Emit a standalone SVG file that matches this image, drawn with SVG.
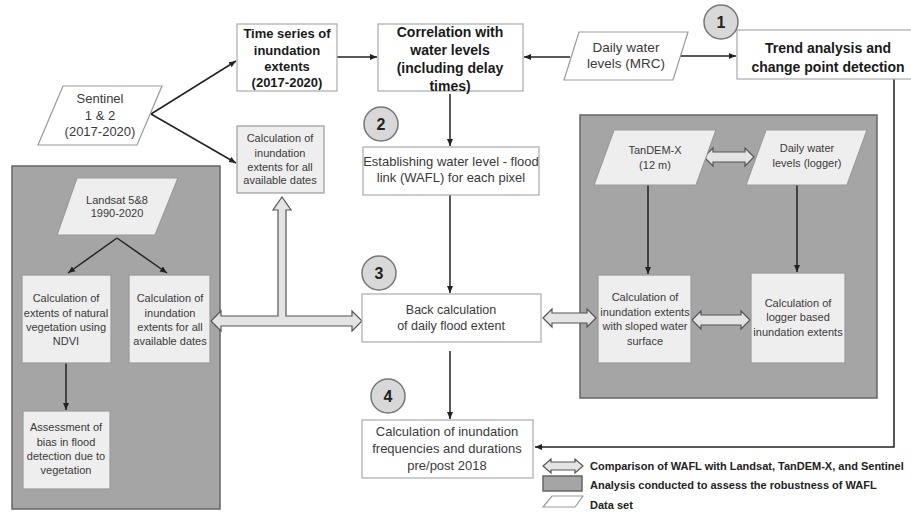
<svg xmlns="http://www.w3.org/2000/svg" width="911" height="521" viewBox="0 0 911 521">
<defs>
<marker id="ah" markerWidth="8" markerHeight="8" refX="7" refY="4" orient="auto" markerUnits="userSpaceOnUse">
<path d="M0,1 L7,4 L0,7 Z" fill="#222"/>
</marker>
<style>
.panel{fill:#a5a5a5;stroke:#666;stroke-width:1.5}
.wbox{fill:#fff;stroke:#aaa;stroke-width:1.2}
.gbox{fill:#eeeeee;stroke:#9a9a9a;stroke-width:1.2}
.para{fill:#fff;stroke:#999;stroke-width:1.2}
.gpara{fill:#eeeeee;stroke:#9a9a9a;stroke-width:1.2}
.hol{fill:#e4e4e4;stroke:#555;stroke-width:1.2}
.ln{fill:none;stroke:#222;stroke-width:1.5}
.circ{fill:#d8d8d8;stroke:#777;stroke-width:1.5}
text{font-family:"Liberation Sans",Arial,sans-serif;text-anchor:middle;fill:#3a3a3a}
.b{font-weight:bold;fill:#1a1a1a}
.num{font-weight:bold;font-size:16px;fill:#222}
.s11{font-size:11px}
.s13{font-size:13px}
.leg{font-size:11px;font-weight:bold;text-anchor:start;fill:#222}
</style>
</defs>

<!-- panels -->
<rect id="panel-landsat" class="panel" x="12" y="166" width="208" height="343"/>
<rect id="panel-tandem" class="panel" x="580" y="115" width="297" height="283"/>

<!-- connectors -->
<g id="connectors">
<line class="ln" x1="151" y1="114" x2="236" y2="61" marker-end="url(#ah)"/>
<line class="ln" x1="151" y1="114" x2="236" y2="163" marker-end="url(#ah)"/>
<line class="ln" x1="337" y1="57" x2="377" y2="57" marker-end="url(#ah)"/>
<line class="ln" x1="570" y1="57" x2="524" y2="57" marker-end="url(#ah)"/>
<line class="ln" x1="679" y1="56" x2="736" y2="56" marker-end="url(#ah)"/>
<line class="ln" x1="450" y1="94" x2="450" y2="146" marker-end="url(#ah)"/>
<line class="ln" x1="450" y1="195" x2="450" y2="293" marker-end="url(#ah)"/>
<line class="ln" x1="450" y1="351" x2="450" y2="419" marker-end="url(#ah)"/>
<polyline class="ln" points="894,79 894,447 535,447" marker-end="url(#ah)"/>
<line class="ln" x1="117" y1="238" x2="68" y2="273" marker-end="url(#ah)"/>
<line class="ln" x1="117" y1="238" x2="167" y2="273" marker-end="url(#ah)"/>
<line class="ln" x1="66" y1="363" x2="66" y2="410" marker-end="url(#ah)"/>
<line class="ln" x1="648" y1="185" x2="648" y2="274" marker-end="url(#ah)"/>
<line class="ln" x1="797" y1="185" x2="797" y2="272" marker-end="url(#ah)"/>
<!-- hollow comparison arrows -->
<path class="hol" d="M211,321 L221,311 L221,316 L278,316 L278,210 L273,210 L282,197 L291,210 L286,210 L286,316 L352,316 L352,311 L362,321 L352,331 L352,326 L221,326 L221,331 Z"/>
<path class="hol" d="M543,318 L552,309 L552,313 L587,313 L587,309 L596,318 L587,327 L587,323 L552,323 L552,327 Z"/>
<path class="hol" d="M692,320 L701,311 L701,315 L741,315 L741,311 L750,320 L741,329 L741,325 L701,325 L701,329 Z"/>
<path class="hol" d="M704,157 L713,148 L713,152 L745,152 L745,148 L754,157 L745,166 L745,162 L713,162 L713,166 Z"/>
</g>

<g id="sentinel">
<polygon class="para" points="63,86 162,86 137,145 38,145"/>
<text class="s13" x="100" y="103">Sentinel</text>
<text class="s13" x="100" y="120">1 &amp; 2</text>
<text class="s13" x="100" y="136">(2017-2020)</text>
</g>

<g id="time-series">
<rect class="wbox" x="237" y="24" width="100" height="67"/>
<text class="b s13" x="287" y="38">Time series of</text>
<text class="b s13" x="287" y="55">inundation</text>
<text class="b s13" x="287" y="71">extents</text>
<text class="b s13" x="287" y="87">(2017-2020)</text>
</g>

<g id="calc-sentinel">
<rect class="gbox" x="237" y="126" width="87" height="67"/>
<text class="s11" x="280" y="142">Calculation of</text>
<text class="s11" x="280" y="157">inundation</text>
<text class="s11" x="280" y="171">extents for all</text>
<text class="s11" x="280" y="184">available dates</text>
</g>

<g id="correlation">
<rect class="wbox" x="378" y="24" width="145" height="67"/>
<text class="b" font-size="14" x="450" y="37">Correlation with</text>
<text class="b" font-size="14" x="450" y="55">water levels</text>
<text class="b" font-size="14" x="450" y="73">(including delay</text>
<text class="b" font-size="14" x="450" y="91">times)</text>
</g>

<g id="mrc">
<polygon class="para" points="579,32 688,32 673,80 564,80"/>
<text font-size="13.5" x="626" y="52">Daily water</text>
<text font-size="13.5" x="626" y="68">levels (MRC)</text>
</g>

<g id="trend">
<rect class="wbox" x="737" y="30" width="180" height="49"/>
<text class="b" font-size="14" x="828" y="53">Trend analysis and</text>
<text class="b" font-size="14" x="828" y="72">change point detection</text>
</g>

<g id="step1"><circle class="circ" cx="721" cy="22" r="17"/><text class="num" x="721" y="28">1</text></g>
<g id="step2"><circle class="circ" cx="381" cy="124" r="17"/><text class="num" x="381" y="130">2</text></g>
<g id="step3"><circle class="circ" cx="379" cy="273" r="17"/><text class="num" x="379" y="279">3</text></g>
<g id="step4"><circle class="circ" cx="388" cy="396" r="17"/><text class="num" x="388" y="402">4</text></g>

<g id="wafl">
<rect class="wbox" x="363" y="147" width="176" height="48"/>
<text class="s13" x="451" y="166">Establishing water level - flood</text>
<text class="s13" x="451" y="182">link (WAFL) for each pixel</text>
</g>

<g id="back-calc">
<rect class="wbox" x="362" y="294" width="179" height="48"/>
<text font-size="12.5" x="451" y="314">Back calculation</text>
<text font-size="12.5" x="451" y="330">of daily flood extent</text>
</g>

<g id="frequencies">
<rect class="wbox" x="362" y="420" width="171" height="58"/>
<text class="s13" x="447" y="436">Calculation of inundation</text>
<text class="s13" x="447" y="453">frequencies and durations</text>
<text class="s13" x="447" y="470">pre/post 2018</text>
</g>

<g id="landsat">
<polygon class="gpara" points="77,178 178,178 155,235 57,235"/>
<text class="s11" x="117" y="204">Landsat 5&amp;8</text>
<text class="s11" x="117" y="217">1990-2020</text>
</g>

<g id="ndvi">
<rect class="gbox" x="22" y="275" width="89" height="88"/>
<text class="s11" x="66" y="302">Calculation of</text>
<text class="s11" x="66" y="317">extents of natural</text>
<text class="s11" x="66" y="331">vegetation using</text>
<text class="s11" x="66" y="345">NDVI</text>
</g>

<g id="calc-landsat">
<rect class="gbox" x="129" y="275" width="81" height="88"/>
<text class="s11" x="170" y="302">Calculation of</text>
<text class="s11" x="170" y="317">inundation</text>
<text class="s11" x="170" y="331">extents for all</text>
<text class="s11" x="170" y="345">available dates</text>
</g>

<g id="bias">
<rect class="gbox" x="23" y="411" width="87" height="78"/>
<text class="s11" x="66" y="431">Assessment of</text>
<text class="s11" x="66" y="446">bias in flood</text>
<text class="s11" x="66" y="460">detection due to</text>
<text class="s11" x="66" y="474">vegetation</text>
</g>

<g id="tandem">
<polygon class="gpara" points="614,130 716,130 696,185 594,185"/>
<text class="s11" x="655" y="154">TanDEM-X</text>
<text class="s11" x="655" y="169">(12 m)</text>
</g>

<g id="logger">
<polygon class="gpara" points="766,130 867,130 847,185 746,185"/>
<text class="s11" x="807" y="152">Daily water</text>
<text class="s11" x="807" y="167">levels (logger)</text>
</g>

<g id="sloped">
<rect class="gbox" x="598" y="275" width="93" height="88"/>
<text class="s11" x="645" y="301">Calculation of</text>
<text class="s11" x="645" y="316">inundation extents</text>
<text class="s11" x="645" y="330">with sloped water</text>
<text class="s11" x="645" y="345">surface</text>
</g>

<g id="logger-based">
<rect class="gbox" x="751" y="273" width="94" height="90"/>
<text class="s11" x="798" y="307">Calculation of</text>
<text class="s11" x="798" y="321">logger based</text>
<text class="s11" x="798" y="336">inundation extents</text>
</g>

<g id="legend">
<path class="hol" d="M543,466 L551,459 L551,462 L575,462 L575,459 L583,466 L575,473 L575,470 L551,470 L551,473 Z"/>
<text class="leg" x="590" y="470">Comparison of WAFL with Landsat, TanDEM-X, and Sentinel</text>
<rect class="panel" x="543" y="476" width="39" height="15"/>
<text class="leg" x="590" y="489">Analysis conducted to assess the robustness of WAFL</text>
<polygon class="para" points="552,496 583,496 575,507 543,507" stroke="#777"/>
<text class="leg" x="590" y="509">Data set</text>
</g>
</svg>
